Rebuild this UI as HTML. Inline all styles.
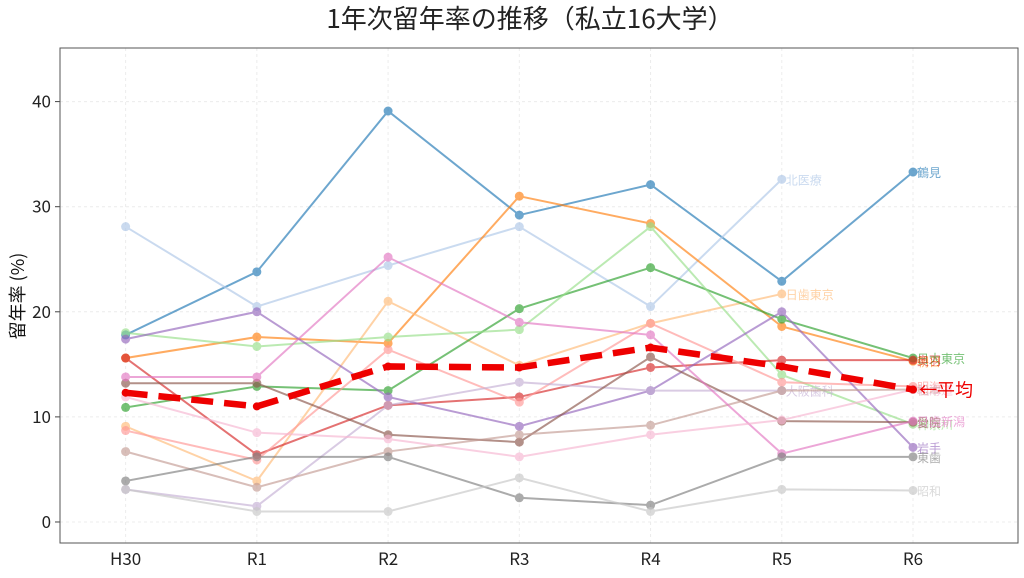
<!DOCTYPE html>
<html><head><meta charset="utf-8"><style>
body{margin:0;background:#fff;font-family:"Noto Sans CJK JP","Liberation Sans",sans-serif}
svg text{font-family:"Noto Sans CJK JP","Liberation Sans",sans-serif}
</style></head><body>
<svg id="c" width="1024" height="573" xmlns="http://www.w3.org/2000/svg">
<text x="530" y="28" font-size="26" text-anchor="middle" fill="#222">1年次留年率の推移（私立16大学）</text>
<text transform="translate(24,296) rotate(-90)" font-size="18" text-anchor="middle" fill="#111">留年率 (%)</text>
<g id="grid"></g><g id="series"></g><g id="axes"></g>
</svg>
<script>
const categories=["H30","R1","R2","R3","R4","R5","R6"];
const yTicks=[0,10,20,30,40];
const names=["鶴見","北医療","朝日","日歯東京","日大東京","神奈川","奥羽","明海","岩手","大阪歯科","愛院","松本","日歯新潟","北海道","東歯","昭和"];
const colors=["#1f77b4","#aec7e8","#ff7f0e","#ffbb78","#2ca02c","#98df8a","#d62728","#ff9896","#9467bd","#c5b0d5","#8c564b","#c49c94","#e377c2","#f7b6d2","#7f7f7f","#c7c7c7"];
const values=[
[17.8,23.8,39.1,29.2,32.1,22.9,33.3],
[28.1,20.5,24.4,28.1,20.5,32.6,null],
[15.6,17.6,17.0,31.0,28.4,18.6,15.3],
[9.1,3.9,21.0,14.9,18.9,21.7,null],
[10.9,12.9,12.5,20.3,24.2,19.3,15.6],
[18.0,16.7,17.6,18.3,28.1,14.0,9.3],
[15.6,6.4,11.1,11.9,14.7,15.4,15.4],
[8.7,5.9,16.4,11.4,18.9,13.3,12.9],
[17.4,20.0,11.9,9.1,12.5,20.0,7.1],
[3.1,1.5,11.1,13.3,12.5,12.5,null],
[13.2,13.2,8.3,7.6,15.7,9.6,9.5],
[6.7,3.3,6.7,8.3,9.2,12.5,12.6],
[13.8,13.8,25.2,19.0,17.8,6.5,9.6],
[11.9,8.5,7.9,6.2,8.3,9.7,12.6],
[3.9,6.2,6.2,2.3,1.6,6.2,6.2],
[3.1,1.0,1.0,4.2,1.0,3.1,3.0]];
const average=[12.3,11.0,14.8,14.7,16.6,14.8,12.6];
const L=60,R=1018,T=48,B=543,xmin=-0.5,xmax=6.8,ymin=-2.0,ymax=45.1;
const X=i=>L+(i-xmin)/(xmax-xmin)*(R-L);
const Y=v=>B-(v-ymin)/(ymax-ymin)*(B-T);
const NS="http://www.w3.org/2000/svg";
function mk(t,a,p){const e=document.createElementNS(NS,t);for(const k in a)e.setAttribute(k,a[k]);p.appendChild(e);return e;}
const g=document.getElementById('grid'),s=document.getElementById('series'),ax=document.getElementById('axes');
categories.forEach((c,i)=>{mk('line',{x1:X(i),x2:X(i),y1:T,y2:B,stroke:'#ececec','stroke-dasharray':'3,3'},g);
const t=mk('text',{x:X(i),y:B+22,'font-size':17,'text-anchor':'middle',fill:'#222'},ax);t.textContent=c;

});
yTicks.forEach(v=>{mk('line',{x1:L,x2:R,y1:Y(v),y2:Y(v),stroke:'#ececec','stroke-dasharray':'3,3'},g);
mk('line',{x1:L-5,x2:L,y1:Y(v),y2:Y(v),stroke:'#444'},ax);
const t=mk('text',{x:L-9,y:Y(v)+6,'font-size':17,'text-anchor':'end',fill:'#222'},ax);t.textContent=v;

});
mk('rect',{x:L,y:T,width:R-L,height:B-T,fill:'none',stroke:'#555','stroke-width':1},ax);
values.forEach((vals,k)=>{const grp=mk('g',{opacity:0.65},s);


let pts=[],last=0;vals.forEach((v,i)=>{if(v!=null){pts.push(X(i)+','+Y(v));last=i;}});
mk('polyline',{points:pts.join(' '),fill:'none',stroke:colors[k],'stroke-width':2},grp);
vals.forEach((v,i)=>{if(v!=null){const c=mk('circle',{cx:X(i),cy:Y(v),r:4.5,fill:colors[k]},grp);

}});
const t=mk('text',{x:X(last)+4,y:Y(vals[last])+5,'font-size':12,fill:colors[k]},grp);t.textContent=names[k];

});
const ag=mk('g',{},s);


mk('polyline',{points:average.map((v,i)=>X(i)+','+Y(v)).join(' '),fill:'none',stroke:'#ee0000','stroke-width':6.5,'stroke-dasharray':'22,11'},ag);
average.forEach((v,i)=>{mk('circle',{cx:X(i),cy:Y(v),r:4,fill:'#ee0000'},ag);});
const at=mk('text',{x:X(6)+6,y:Y(average[6])+7,'font-size':18,fill:'#ee0000'},ag);at.textContent='←平均';


</script>
</body></html>
